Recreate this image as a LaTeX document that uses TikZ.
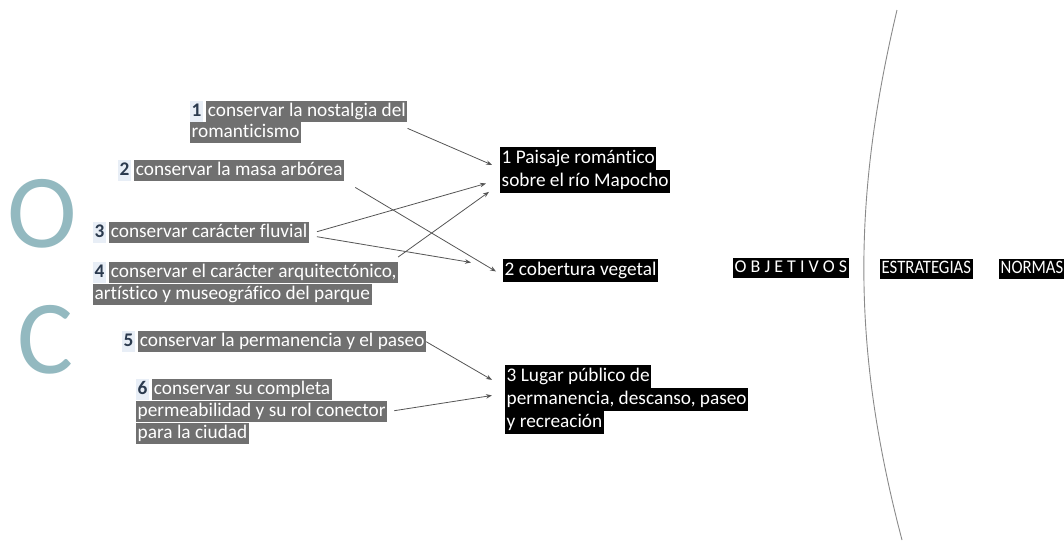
\documentclass[tikz,border=0pt]{standalone}
\usepackage{fontspec}
\setmainfont{Carlito}[Ligatures=NoCommon]
\usetikzlibrary{arrows.meta,calc}
\definecolor{hlgray}{HTML}{707070}
\definecolor{numbg}{HTML}{E8EEF6}
\definecolor{numfg}{HTML}{2B3A4E}
\definecolor{bigc}{HTML}{93B9C0}
\definecolor{linec}{HTML}{555555}
\definecolor{curvec}{HTML}{8A8A8A}
\newcommand{\narrow}[1]{\scalebox{0.88}[1]{#1}}
\begin{document}
\begin{tikzpicture}[x=1pt,y=-1pt,
  base/.style={inner xsep=1.5pt, inner ysep=0pt, text height=15.5pt, text depth=5.5pt,
    font=\fontsize{19.3}{22}\selectfont, anchor=north west},
  num/.style={base, fill=numbg, text=numfg, font=\fontsize{19.3}{22}\selectfont\bfseries},
  hl/.style={base, fill=hlgray, text=white},
  blk/.style={base, fill=black, text=white, text height=16.5pt, text depth=6pt,
    font=\fontsize{19.3}{22}\selectfont},
  tag/.style={base, fill=black, text=white, text height=14.5pt, text depth=5pt,
    font=\fontsize{19}{22}\selectfont},
  big/.style={text=bigc, font=\fontsize{105}{110}\selectfont, inner sep=0pt},
  arr/.style={draw=linec, line width=0.8pt, -{Stealth[length=6pt,width=4.5pt]}}
]
\useasboundingbox (0,0) rectangle (1064,542);

% big letters
\node[big] (bigO) at (42,214) {O};
\node[big] (bigC) at (45,340) {C};

% left items
\node[num] (n1) at (190,101) {1};
\node[hl] (g1a) at ([xshift=3pt]n1.north east) {conservar la nostalgia del};
\node[hl] (g1b) at (190,122) {romanticismo};

\node[num] (n2) at (118,160) {2};
\node[hl] (g2) at ([xshift=3pt]n2.north east) {conservar la masa arbórea};

\node[num] (n3) at (93,222) {3};
\node[hl] (g3) at ([xshift=3pt]n3.north east) {conservar carácter fluvial};

\node[num] (n4) at (93,262) {4};
\node[hl] (g4a) at ([xshift=3pt]n4.north east) {conservar el carácter arquitectónico,};
\node[hl] (g4b) at (93,284) {artístico y museográfico del parque};

\node[num] (n5) at (122,331) {5};
\node[hl] (g5) at ([xshift=3pt]n5.north east) {conservar la permanencia y el paseo};

\node[num] (n6) at (136,379) {6};
\node[hl] (g6a) at ([xshift=3pt]n6.north east) {conservar su completa};
\node[hl] (g6b) at (136,401) {permeabilidad y su rol conector};
\node[hl] (g6c) at (136,423) {para la ciudad};

% objectives
\node[blk] (p1a) at (500,147) {1 Paisaje romántico};
\node[blk] (p1b) at (500,170) {sobre el río Mapocho};
\node[blk] (p2) at (503,259) {2 cobertura vegetal};
\node[blk] (p3a) at (505,365) {3 Lugar público de};
\node[blk] (p3b) at (505,388) {permanencia, descanso, paseo};
\node[blk] (p3c) at (505,411) {y recreación};

% headers
\node[tag, font=\fontsize{18}{22}\selectfont] (obj) at (733,258) {O B J E T I V O S};
\node[tag] (est) at (880,259) {\narrow{ESTRATEGIAS}};
\node[tag] (nor) at (999,259) {\narrow{NORMAS}};

% separator curve
\coordinate (ctop) at (897,10);
\coordinate (cbot) at (902,540);
\draw[curvec, line width=0.9pt] (ctop) .. controls (852,200) and (852,350) .. (cbot);

% connectors
\draw[arr] ($(g1a.south east)+(0,6)$) -- ($(p1a.south west)+(-8,-5)$);
\draw[arr] ($(g2.south east)+(11,6)$) -- ($(p2.west)+(-7,1)$);
\draw[arr] ($(g3.east)+(8,-1)$) -- ($(p1b.west)+(-14,2)$);
\draw[arr] ($(g3.east)+(8,4)$) -- ($(p2.west)+(-32,-8)$);
\draw[arr] ($(g4a.north east)+(0,-5)$) -- ($(p1b.south west)+(-11,-1)$);
\draw[arr] ($(g5.east)+(0,0)$) -- ($(p3a.south west)+(-13,-8)$);
\draw[arr] ($(g6b.east)+(7,-1)$) -- ($(p3b.west)+(-13,-4)$);
\end{tikzpicture}
\end{document}
